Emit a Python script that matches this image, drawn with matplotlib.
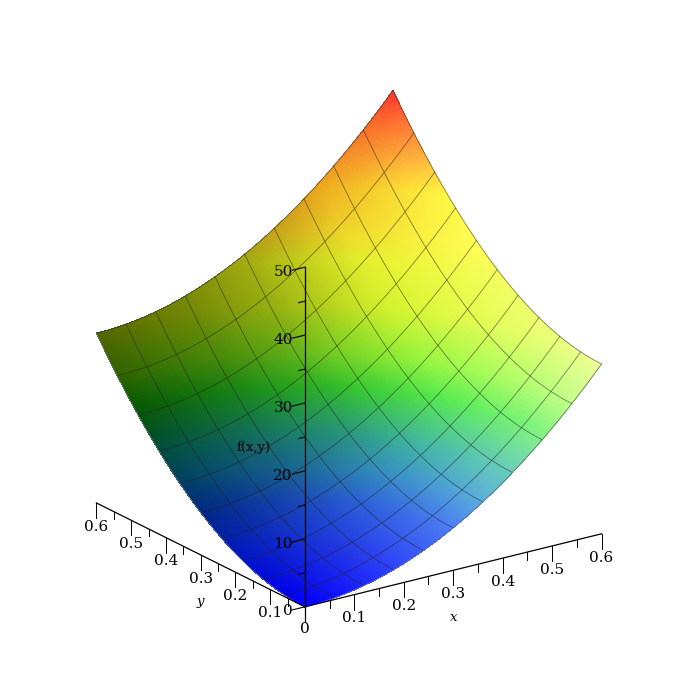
"""Surface f(x,y) over [0,0.6]^2, seen from the corner at the origin."""

import matplotlib
matplotlib.use("Agg")
import matplotlib.pyplot as plt
from matplotlib.text import Text
import numpy as np

plt.rcParams["font.family"] = ["DejaVu Serif"]

# height of the surface along its two edges, x (or y) = 0, 0.005, ... 0.60
EDGE_HEIGHT = [
    0.00, 0.00, 0.01, 0.02, 0.03, 0.04, 0.06, 0.09, 0.11, 0.14,
    0.17, 0.21, 0.25, 0.29, 0.34, 0.39, 0.44, 0.50, 0.56, 0.63,
    0.69, 0.77, 0.84, 0.92, 1.00, 1.09, 1.17, 1.27, 1.36, 1.46,
    1.56, 1.67, 1.78, 1.89, 2.01, 2.13, 2.25, 2.38, 2.51, 2.64,
    2.78, 2.92, 3.06, 3.21, 3.36, 3.52, 3.67, 3.84, 4.00, 4.17,
    4.34, 4.52, 4.69, 4.88, 5.06, 5.25, 5.44, 5.64, 5.84, 6.04,
    6.25, 6.46, 6.67, 6.89, 7.11, 7.33, 7.56, 7.79, 8.03, 8.27,
    8.51, 8.75, 9.00, 9.25, 9.51, 9.77, 10.03, 10.29, 10.56, 10.84,
    11.11, 11.39, 11.67, 11.96, 12.25, 12.54, 12.84, 13.14, 13.44, 13.75,
    14.06, 14.38, 14.69, 15.02, 15.34, 15.67, 16.00, 16.33, 16.67, 17.02,
    17.36, 17.71, 18.06, 18.42, 18.78, 19.14, 19.51, 19.88, 20.25, 20.63,
    21.01, 21.39, 21.78, 22.17, 22.56, 22.96, 23.36, 23.77, 24.17, 24.59,
    25.00,
]
XY_TICKS = [0.1, 0.2, 0.3, 0.4, 0.5, 0.6]
XY_MINOR = [0.05, 0.15, 0.25, 0.35, 0.45, 0.55]
Z_TICKS = [0, 10, 20, 30, 40, 50]
Z_MINOR = [5, 15, 25, 35, 45]

# colour ramp against height
RAMP_Z = [0, 6, 9, 12, 16.7, 20, 25, 33, 38, 42, 46, 50]
RAMP_R = [0, 0, 0, 0, 20, 120, 215, 255, 255, 255, 255, 245]
RAMP_G = [0, 70, 130, 170, 235, 255, 255, 255, 250, 170, 100, 30]
RAMP_B = [255, 240, 200, 140, 10, 0, 0, 20, 20, 30, 30, 30]
# how much the y end darkens the surface, and how fast that fades along x
DIM_V = [0, 0.3, 0.5, 0.8, 1]
DIM_AMOUNT = [0, 0.2, 0.45, 0.62, 0.6]
FADE_U = [0, 0.3, 0.5, 0.75, 1]
FADE = [1, 0.78, 0.55, 0.12, 0]

AXIS = "#000000"


def surface_colors(u, v, z):
    base = np.dstack([np.interp(z, RAMP_Z, RAMP_R),
                      np.interp(z, RAMP_Z, RAMP_G),
                      np.interp(z, RAMP_Z, RAMP_B)]) / 255
    # dark towards the y end, washed out towards the x end
    dim = 1 - np.interp(v, DIM_V, DIM_AMOUNT) * np.interp(u, FADE_U, FADE)
    white = 0.6 * u * (1 - 0.9 * v)
    rgb = base * dim[..., None]
    # the shaded upper side turns orange before the lit one does
    rgb[..., 1] *= 1 - 1.1 * (1 - u) * np.clip((z - 30) / 8, 0, 1)
    rgb = rgb + (1 - rgb) * white[..., None]
    return np.clip(rgb, 0, 1)


xs = np.linspace(0, 0.6, len(EDGE_HEIGHT))
edge = np.array(EDGE_HEIGHT)
X, Y = np.meshgrid(xs, xs)
Z = np.add.outer(edge, edge)

fig = plt.figure(figsize=(7, 7), dpi=100)
ax = fig.add_axes([-10.5 / 700, -8 / 700, 1, 1], projection="3d",
                  proj_type="ortho", computed_zorder=False)
ax.view_init(elev=20.5, azim=234.9)
ax.set_box_aspect((1, 1, 1), zoom=0.871)
ax.set_xlim(0, 0.6)
ax.set_ylim(0, 0.6)
ax.set_zlim(0, 50)
ax.set_xticks([])
ax.set_yticks([])
ax.set_zticks([])
ax.set_axis_off()
for t in ax.findobj(Text):
    t.set_visible(False)

ax.plot_surface(X, Y, Z, facecolors=surface_colors(X / 0.6, Y / 0.6, Z),
                rstride=1, cstride=1, shade=False, linewidth=0,
                antialiased=False, zorder=1)

# grid lines every 0.06
for i in range(12, 121, 12):
    ax.plot(xs, np.full_like(xs, xs[i]), edge + edge[i], color="#202020",
            lw=0.6, alpha=0.55, zorder=2)
    ax.plot(np.full_like(xs, xs[i]), xs, edge + edge[i], color="#202020",
            lw=0.6, alpha=0.55, zorder=2)
ax.plot(xs, np.zeros_like(xs), edge, color="#707070", lw=0.6, zorder=2)
ax.plot(np.zeros_like(xs), xs, edge, color="#707070", lw=0.6, zorder=2)

# axes
ax.plot([0, 0.6], [0, 0], [0, 0], color=AXIS, lw=0.9, zorder=5)
ax.plot([0, 0], [0, 0.6], [0, 0], color=AXIS, lw=0.9, zorder=5)
ax.plot([0, 0], [0, 0], [0, 50], color=AXIS, lw=0.9, zorder=5)
ax.plot([0, 0], [0, 0], [0, -2.2], color=AXIS, lw=0.9, zorder=5)

for t in XY_TICKS:
    ax.plot([t, t], [0, 0], [0, -2.2], color=AXIS, lw=0.7, zorder=5)
    ax.plot([0, 0], [t, t], [0, -2.2], color=AXIS, lw=0.7, zorder=5)
    ax.text(t, 0, -3.5, f"{t:.1f}", ha="center", va="center", fontsize=11)
    ax.text(0, t, -3.5, f"{t:.1f}", ha="center", va="center", fontsize=11)
for t in XY_MINOR:
    ax.plot([t, t], [0, 0], [0, -1.1], color=AXIS, lw=0.7, zorder=5)
    ax.plot([0, 0], [t, t], [0, -1.1], color=AXIS, lw=0.7, zorder=5)
for t in Z_TICKS:
    ax.plot([0, -0.025], [0, 0], [t, t], color=AXIS, lw=0.8, zorder=5)
    ax.text(-0.0245, 0, t - 0.25, f"{t}", ha="right", va="center", fontsize=11, zorder=6)
for t in Z_MINOR:
    ax.plot([0, -0.0125], [0, 0], [t, t], color=AXIS, lw=0.8, zorder=5)

ax.text(0, 0, -3.3, "0", ha="center", va="center", fontsize=11)
ax.text(0.3, 0, -7, "x", style="italic", ha="center", va="center", fontsize=9.5)
ax.text(0, 0.3, -6.9, "y", style="italic", ha="center", va="center", fontsize=9.5)
ax.text(-0.103, 0, 25.3, "f(x,y)", ha="center", va="center", fontsize=9.5, zorder=6)

fig.savefig("out.png", dpi=100)
